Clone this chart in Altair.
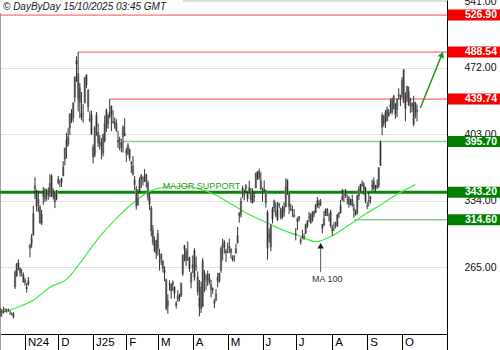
import altair as alt
import pandas as pd
import numpy as np

# ---------------- data (daily sessions, 11 Oct 2024 -> 14 Oct 2025) ----------------
holidays = ["2024-11-28", "2024-12-25", "2025-01-01", "2025-01-09", "2025-01-20",
            "2025-02-17", "2025-04-18", "2025-05-26", "2025-06-19", "2025-07-04",
            "2025-09-01"]

opens = [
    220.1, 220.1, 220.0, 221.4, 221.6, 220.7, 218.9, 217.3, 217.1, 244.7, 256.0, 270.0, 264.5, 258.0, 257.0,
    252.0, 244.6, 247.3, 284.7, 288.9, 299.1, 346.3, 342.7, 335.9, 327.7, 310.6, 340.7, 335.8, 345.0, 343.8, 341.1, 360.1, 341.0, 341.8, 336.1,
    352.4, 351.8, 353.0, 359.9, 377.4, 397.6, 392.7, 409.7, 424.8, 420.0, 441.1, 475.9, 466.5, 451.9, 425.5, 431.0, 435.9, 465.2, 449.5, 419.4, 423.8,
    390.1, 381.5, 423.2, 405.8, 393.0, 391.4, 383.2, 414.3, 409.9, 423.5, 421.5, 432.6, 416.8, 416.1, 414.5, 394.8, 396.9, 395.2, 410.8, 401.5,
    386.7, 382.6, 387.5, 373.0, 370.2, 356.2, 345.8, 329.9, 345.0, 360.6, 355.0, 354.0, 361.5, 353.4, 338.1, 327.0, 303.7, 291.2, 279.5,
    300.3, 270.9, 272.9, 272.1, 259.3, 252.5, 225.3, 247.2, 248.1, 247.3, 245.1, 228.2, 231.6, 233.4, 235.0, 258.1, 283.6, 282.7, 272.5, 275.6, 249.3,
    263.8, 254.6, 265.3, 255.4, 223.8, 245.0, 224.7, 260.0, 251.8, 258.4, 249.9, 247.6, 243.5, 230.3, 231.0, 254.9, 250.5, 261.7, 289.0, 285.5, 279.9,
    280.0, 284.9, 284.6, 273.1, 276.9, 279.6, 290.2, 322.0, 320.0, 342.5, 340.3, 346.2, 336.3, 347.9, 344.4, 331.9, 337.9, 347.4, 364.8, 365.3, 355.5,
    343.5, 346.6, 345.1, 322.5, 298.8, 286.0, 314.9, 334.4, 323.1, 314.0, 331.3, 326.1, 317.3, 328.0, 327.5, 356.2, 342.7, 324.6, 324.5, 319.9,
    298.5, 312.6, 318.0, 291.4, 297.0, 297.6, 300.1, 307.9, 317.7, 319.7, 312.8, 323.2, 321.7, 334.4, 329.7, 330.9, 310.0, 308.7, 318.5, 325.6, 319.4, 323.1,
    306.2, 309.1, 309.0, 307.9, 319.8, 321.4, 335.0, 345.0, 341.5, 335.8, 337.7, 329.6, 335.8, 327.2, 322.1, 321.7, 338.9, 344.9, 351.9, 350.9, 347.2,
    328.2, 335.2, 336.2, 348.0, 354.6, 348.4, 350.6, 350.2, 370.9, 423.1, 414.5, 415.8, 428.9, 421.8, 431.1, 439.9, 429.8, 435.2, 428.3, 444.4, 441.5,
    443.8, 470.5, 443.3, 440.8, 447.8, 437.6, 431.8, 436.5, 423.5, 426.5,
]
highs = [
    223.3, 221.9, 224.3, 222.8, 222.1, 222.3, 220.5, 218.2, 218.7, 262.1, 269.5, 273.5, 265.0, 263.4, 259.8,
    254.0, 248.9, 255.3, 289.6, 299.8, 328.7, 358.6, 345.8, 344.6, 330.0, 324.7, 348.6, 347.4, 346.6, 348.0, 361.5, 361.9, 347.0, 342.6, 345.5,
    360.0, 355.7, 358.1, 375.4, 389.5, 404.8, 409.7, 424.9, 429.3, 436.3, 463.2, 484.0, 488.54, 456.4, 447.1, 434.5, 462.8, 465.3, 450.0, 427.0, 427.9,
    392.7, 411.9, 426.4, 414.3, 402.5, 399.3, 403.8, 422.6, 429.8, 424.0, 439.74, 433.2, 428.0, 420.7, 418.9, 406.7, 400.6, 398.6, 412.5, 420.0,
    389.2, 394.0, 388.4, 375.4, 380.6, 360.0, 349.4, 346.4, 358.7, 362.0, 359.1, 367.3, 362.3, 355.0, 342.4, 328.9, 309.0, 297.2, 293.9,
    303.9, 284.4, 279.6, 272.7, 266.3, 253.4, 237.1, 251.8, 248.3, 251.6, 245.4, 230.1, 241.4, 238.0, 249.5, 278.6, 288.2, 284.9, 291.9, 276.1, 260.6,
    277.5, 285.0, 276.3, 261.0, 252.0, 250.4, 274.7, 262.5, 257.7, 261.8, 258.8, 252.0, 244.3, 232.2, 242.8, 259.5, 259.5, 286.9, 294.9, 293.3, 284.5,
    290.9, 294.8, 284.9, 277.7, 277.9, 289.8, 307.0, 322.2, 337.6, 350.0, 346.1, 351.6, 343.0, 355.0, 347.4, 347.3, 343.2, 363.8, 365.0, 367.7, 363.7,
    348.0, 355.4, 345.6, 324.6, 305.5, 309.8, 327.8, 335.5, 332.6, 333.0, 332.1, 327.3, 329.3, 332.4, 357.5, 356.3, 343.0, 331.1, 329.3, 325.6,
    305.9, 316.8, 318.5, 296.2, 304.1, 300.2, 310.5, 314.1, 322.6, 321.2, 323.5, 324.3, 330.9, 338.0, 335.4, 336.2, 310.2, 323.6, 326.3, 326.6, 321.4, 324.9,
    309.3, 312.1, 312.5, 320.5, 322.4, 335.2, 346.6, 345.3, 346.5, 340.5, 339.3, 336.3, 340.6, 331.3, 324.9, 340.3, 349.5, 351.9, 355.4, 353.6, 348.8,
    333.3, 343.3, 338.9, 355.9, 358.4, 350.8, 356.3, 369.0, 396.7, 425.7, 423.3, 428.3, 432.2, 429.5, 440.2, 441.0, 444.2, 435.4, 440.5, 451.0, 444.0,
    462.3, 470.8, 446.8, 453.6, 452.7, 441.3, 436.4, 443.1, 436.9, 434.2,
]
lows = [
    214.4, 213.7, 217.1, 218.9, 217.9, 219.2, 215.7, 215.3, 212.1, 242.7, 255.3, 262.2, 255.5, 255.8, 249.3,
    246.2, 238.9, 246.2, 275.6, 285.5, 297.7, 336.0, 323.3, 322.5, 310.4, 309.2, 330.0, 332.8, 334.3, 335.3, 337.7, 338.2, 335.7, 326.6, 334.7,
    351.2, 348.2, 348.6, 359.5, 370.8, 378.0, 390.9, 402.4, 415.0, 415.7, 436.2, 457.5, 427.0, 420.0, 417.6, 415.4, 435.1, 451.0, 426.5, 415.8, 402.5,
    373.0, 379.5, 401.7, 390.0, 387.4, 377.3, 380.1, 394.5, 405.7, 409.1, 419.8, 406.3, 414.6, 409.0, 405.8, 389.0, 386.5, 384.5, 384.4, 401.3,
    374.4, 381.4, 375.5, 363.2, 360.3, 345.4, 325.1, 329.1, 342.9, 347.5, 350.0, 353.7, 348.0, 334.4, 324.7, 297.3, 288.0, 280.9, 273.6,
    277.3, 261.8, 267.7, 260.0, 250.7, 220.7, 217.0, 241.1, 232.6, 240.7, 232.8, 222.3, 229.2, 230.1, 234.6, 256.3, 271.3, 266.5, 271.8, 260.6, 243.4,
    259.3, 251.3, 261.5, 236.0, 214.3, 217.8, 223.9, 239.3, 241.4, 245.9, 247.5, 233.9, 237.7, 222.8, 229.9, 244.4, 249.2, 259.6, 272.4, 279.5, 270.8,
    279.8, 279.8, 274.4, 271.4, 271.0, 279.4, 290.0, 311.5, 316.8, 337.0, 334.7, 342.3, 333.4, 341.6, 332.2, 331.4, 333.2, 347.3, 355.9, 356.0, 345.3,
    333.3, 343.0, 327.3, 273.2, 291.1, 281.9, 310.7, 322.5, 316.9, 313.3, 326.4, 314.7, 315.5, 317.8, 327.5, 340.4, 320.4, 323.6, 317.5, 316.6,
    293.2, 303.8, 312.8, 288.8, 294.4, 293.6, 300.0, 305.7, 312.7, 310.5, 312.6, 317.1, 321.4, 326.9, 326.2, 328.7, 300.4, 308.0, 318.4, 318.3, 312.8, 306.1,
    297.8, 303.0, 305.5, 306.9, 316.2, 321.0, 334.2, 332.9, 337.1, 330.4, 327.0, 329.6, 327.9, 316.8, 318.7, 319.7, 335.0, 343.7, 349.2, 340.3, 331.7,
    325.6, 328.5, 331.5, 344.7, 344.8, 343.8, 346.1, 347.6, 370.2, 402.4, 411.4, 409.7, 416.6, 421.7, 424.7, 423.7, 429.0, 419.1, 421.0, 439.5, 432.5,
    440.8, 435.6, 416.6, 436.7, 432.5, 425.2, 426.2, 411.5, 419.7, 416.5,
]
closes = [
    217.8, 219.2, 219.6, 221.3, 220.9, 220.7, 218.9, 218.0, 213.7, 260.5, 269.2, 262.5, 259.5, 257.6, 249.9,
    249.0, 242.8, 251.4, 288.5, 296.9, 321.2, 350.0, 328.5, 330.2, 311.2, 320.7, 338.7, 346.0, 342.0, 339.6, 352.6, 338.6, 338.2, 332.9, 345.2,
    357.1, 351.4, 357.9, 369.5, 389.2, 389.8, 401.0, 424.8, 418.1, 436.2, 463.0, 479.9, 440.1, 436.2, 421.1, 430.6, 462.3, 454.1, 431.7, 417.4, 403.8,
    379.3, 410.4, 411.1, 394.4, 394.9, 394.7, 403.3, 396.4, 428.2, 413.8, 426.5, 424.1, 415.1, 412.4, 406.6, 397.2, 398.1, 389.1, 400.3, 404.6,
    383.7, 392.2, 378.2, 374.3, 361.6, 350.7, 328.5, 336.5, 355.9, 355.8, 354.1, 360.6, 354.4, 337.8, 330.5, 302.8, 290.8, 282.0, 293.0,
    284.7, 272.0, 279.1, 263.5, 262.7, 222.2, 230.6, 248.1, 240.7, 250.0, 238.0, 225.3, 235.9, 236.3, 248.7, 278.4, 288.1, 272.1, 273.1, 263.6, 259.2,
    268.5, 282.8, 267.3, 239.4, 233.3, 221.9, 272.2, 252.4, 252.3, 252.4, 254.1, 241.6, 241.4, 227.5, 238.0, 250.7, 259.5, 285.0, 285.9, 292.0, 282.2,
    280.5, 287.2, 280.3, 275.4, 276.2, 284.8, 298.3, 318.4, 334.1, 347.7, 342.8, 350.0, 342.1, 343.8, 334.6, 341.0, 339.3, 362.9, 356.9, 358.4, 346.5,
    342.7, 344.3, 332.1, 284.7, 295.1, 308.6, 326.1, 326.4, 319.1, 325.3, 329.1, 316.4, 322.1, 322.2, 348.7, 340.5, 327.6, 325.8, 323.6, 317.7,
    300.7, 315.7, 315.4, 293.9, 297.8, 295.9, 309.9, 313.5, 316.9, 310.8, 321.7, 319.4, 329.7, 328.5, 332.1, 332.6, 305.3, 316.1, 325.6, 321.2, 319.0, 308.3,
    302.6, 309.3, 308.7, 319.9, 322.3, 329.7, 339.0, 340.8, 339.4, 335.6, 330.6, 335.2, 329.3, 323.9, 320.1, 340.0, 346.6, 351.7, 349.6, 346.0, 333.9,
    329.4, 334.1, 338.5, 350.8, 346.4, 347.0, 347.8, 368.8, 395.9, 410.0, 421.6, 425.9, 416.9, 426.1, 434.2, 425.9, 442.8, 423.4, 440.4, 443.2, 444.7,
    459.5, 436.0, 429.8, 453.3, 433.1, 438.7, 435.5, 413.5, 435.9, 429.2,
]

# 100-session moving average, read every 10 sessions starting at session 1
ma100 = [217.7, 223.5, 231.0, 244.5, 252.7, 274.0, 297.0, 316.0, 332.0, 344.0,
         348.5, 349.3, 346.5, 340.0, 330.0, 320.0, 312.0, 304.0, 298.0, 291.8,
         298.0, 309.0, 320.5, 331.0, 342.0, 351.0]
ma_step = 10

# horizontal levels
level_values = [526.90, 488.54, 439.74, 395.70, 343.20, 314.60]
level_from = ["2024-10-11", "2024-12-18", "2025-01-17", "2025-01-30", "2024-10-11", "2025-08-20"]
level_kind = ["resistance", "resistance", "resistance", "support", "major", "support"]

# month axis
month_labels = ["N24", "D", "J25", "F", "M", "A", "M", "J", "J", "A", "S", "O"]
month_keys = ["2024-11", "2024-12", "2025-01", "2025-02", "2025-03", "2025-04",
              "2025-05", "2025-06", "2025-07", "2025-08", "2025-09", "2025-10"]
grid_values = [541, 472, 403, 334, 265]

# annotations
title_text = "© DayByDay 15/10/2025 03:45 GMT"
support_text, support_date, support_value = "MAJOR SUPPORT", "2025-03-06", 350.0
ma_text, ma_text_date, ma_text_value = "MA 100", "2025-07-29", 253.0
ma_arrow_date, ma_arrow_from, ma_arrow_to = "2025-07-23", 260.5, 287.5
target_from_date, target_from_value = "2025-10-16", 430.5
target_to_date, target_to_value = "2025-11-04", 486.0

# ---------------- build tables ----------------
assert len(opens) == len(highs) == len(lows) == len(closes)
dates = pd.bdate_range("2024-10-11", "2025-11-20", freq="C", holidays=holidays)
session_of = {d.strftime("%Y-%m-%d"): i + 1 for i, d in enumerate(dates)}
n = len(closes)
bars = pd.DataFrame({"session": np.arange(1, n + 1), "open": opens, "high": highs,
                     "low": lows, "close": closes})

ma_df = pd.DataFrame({"session": np.arange(1, 1 + ma_step * len(ma100), ma_step), "ma": ma100})

levels = pd.DataFrame({"value": level_values,
                       "start": [session_of[d] for d in level_from],
                       "kind": level_kind})

month_sessions = [min(session_of[d] for d in session_of if d.startswith(k)) for k in month_keys]

X_MIN, X_MAX = 0.945, 270.06
xs = alt.Scale(domain=[X_MIN, X_MAX], nice=False, zero=False)
ys = alt.Scale(domain=[196.0, 542.55], nice=False, zero=False)
FONT = "Liberation Sans"

expr = "".join(f"datum.value == {s} ? '{lab}' : " for s, lab in zip(month_sessions, month_labels)) + "''"

x_axis = alt.Axis(values=month_sessions + [X_MAX], labelExpr=expr, title=None, grid=False,
                  tickSize=16, tickColor="black", domainColor="black", tickWidth=1,
                  labelAlign="left", labelBaseline="top", labelPadding=-14, labelOffset=2.5,
                  labelFont=FONT, labelFontSize=11.5, labelColor="black",
                  labelFlush=False, labelOverlap=False)
y_axis = alt.Axis(orient="right", values=grid_values, format=".2f", title=None, grid=True,
                  gridColor="#e2e2e2", gridWidth=1, ticks=False, domainColor="black",
                  labelAlign="right", labelBaseline="middle", labelPadding=49,
                  labelFont=FONT, labelFontSize=10.5, labelColor="#111",
                  labelFlush=False, labelOverlap=False, zindex=0)


def X(field):
    return alt.X(field, type="quantitative", scale=xs, axis=x_axis)


def Y(field):
    return alt.Y(field, type="quantitative", scale=ys, axis=y_axis)


LINE_COL = {"resistance": "#ff4b4b", "support": "#86cf86", "major": "#0b870b"}
LINE_W = {"resistance": 1, "support": 1.6, "major": 3}
BOX_COL = {"resistance": "#f40000", "support": "#008000", "major": "#008000"}

left_border = alt.Chart(pd.DataFrame({"a": [0]})).mark_rule(color="#a0a0a0", strokeWidth=1).encode(
    x=alt.value(0.5), y=alt.value(0), y2=alt.value(350))

level_layers = []
box_layers = []
for kind in ["resistance", "support", "major"]:
    sub = levels[levels["kind"] == kind]
    level_layers.append(alt.Chart(sub).mark_rule(strokeCap="butt", color=LINE_COL[kind], strokeWidth=LINE_W[kind]).encode(
        x=X("start"), x2=alt.value(447), y=Y("value")))
    box_layers.append(alt.Chart(sub).mark_rule(strokeWidth=11, strokeCap="butt", color=BOX_COL[kind]).encode(
        x=alt.value(447.5), x2=alt.value(500), y=Y("value")))

ma_line = alt.Chart(ma_df).mark_line(color="#3ded3d", strokeWidth=1.2, interpolate="monotone").encode(
    x=X("session"), y=Y("ma"))

bodies = alt.Chart(bars).mark_rule(strokeWidth=2.4, strokeCap="butt", color="#a2a2a2").encode(
    x=X("session"), y=Y("open"), y2="close")
wicks = alt.Chart(bars).mark_rule(color="#1c1c1c", strokeWidth=0.9).encode(
    x=X("session"), y=Y("low"), y2="high")

ann_support = alt.Chart(pd.DataFrame({"s": [session_of[support_date]], "v": [support_value], "t": [support_text]})).mark_text(
    align="left", baseline="middle", font=FONT, fontSize=9, color="#2f9a2f").encode(
    x=X("s"), y=Y("v"), text="t:N")

ann_ma = alt.Chart(pd.DataFrame({"s": [session_of[ma_text_date]], "v": [ma_text_value], "t": [ma_text]})).mark_text(
    align="center", baseline="middle", font=FONT, fontSize=9, color="#333").encode(
    x=X("s"), y=Y("v"), text="t:N")

ma_arrow_df = pd.DataFrame({"s": [session_of[ma_arrow_date]], "v1": [ma_arrow_from], "v2": [ma_arrow_to - 2]})
ma_arrow_line = alt.Chart(ma_arrow_df).mark_rule(color="#555", strokeWidth=1).encode(
    x=X("s"), y=Y("v1"), y2="v2")
ma_arrow_head = alt.Chart(pd.DataFrame({"s": [session_of[ma_arrow_date]], "v": [ma_arrow_to]})).mark_point(
    shape="triangle-up", filled=True, color="#1a1a1a", size=40, opacity=1).encode(
    x=X("s"), y=Y("v"))

target_df = pd.DataFrame({"s": [session_of[target_from_date], session_of[target_to_date]],
                          "v": [target_from_value, target_to_value]})
target_line = alt.Chart(target_df).mark_line(color="#1e961e", strokeWidth=1.5).encode(
    x=X("s"), y=Y("v"))
target_head = alt.Chart(target_df.tail(1)).mark_point(
    shape="triangle-up", filled=True, color="#1e961e", size=45, angle=21, opacity=1).encode(
    x=X("s"), y=Y("v"))

box_text = alt.Chart(levels).mark_text(align="right", baseline="middle", font=FONT, fontSize=10.5,
                                       fontWeight="bold", color="white").encode(
    x=alt.value(497), y=Y("value"), text=alt.Text("value:Q", format=".2f"))

title_bg = alt.Chart(pd.DataFrame({"a": [0]})).mark_rect(color="white").encode(
    x=alt.value(0), x2=alt.value(183), y=alt.value(0), y2=alt.value(13))
title = alt.Chart(pd.DataFrame({"t": [title_text]})).mark_text(
    align="left", baseline="middle", font=FONT, fontSize=10, fontStyle="italic", color="#1a1a1a").encode(
    x=alt.value(3), y=alt.value(7), text="t:N")

chart = alt.layer(
    left_border, *level_layers, ma_line, bodies, wicks,
    ann_support, ann_ma, ma_arrow_line, ma_arrow_head, target_line, target_head,
    *box_layers, box_text, title_bg, title,
).properties(
    width=447, height=334,
    padding={"left": 0, "top": 0, "right": 53, "bottom": 16},
    autosize=alt.AutoSizeParams(type="none"),
).configure_view(stroke=None).configure(background="white", font=FONT)

chart.save("out.html", embed_options={"renderer": "svg", "actions": False})
